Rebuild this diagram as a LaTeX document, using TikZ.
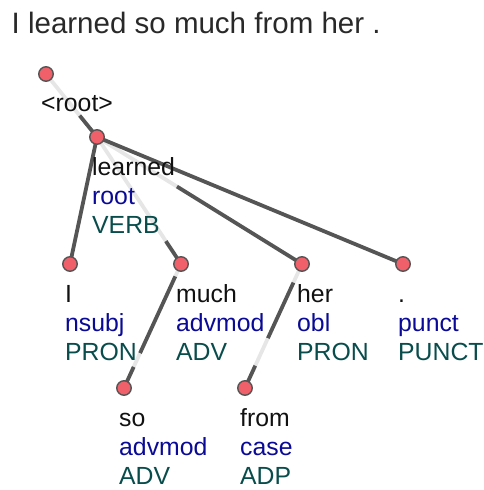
\documentclass[tikz,border=0pt]{standalone}
\usepackage{fontspec}
\setmainfont{Liberation Sans}
\usetikzlibrary{calc}

\definecolor{linkgray}{RGB}{85,85,85}
\definecolor{linkfade}{RGB}{230,230,230}
\definecolor{dotred}{RGB}{240,96,106}
\definecolor{relblue}{RGB}{10,10,150}
\definecolor{posteal}{RGB}{8,76,76}
\definecolor{wordblack}{RGB}{17,17,17}

\tikzset{
  link/.style={draw=linkgray, line width=3.8pt, line cap=butt},
  fadelink/.style={draw=linkfade, line width=3.8pt, line cap=butt},
  dot/.style={circle, fill=dotred, draw=linkgray, line width=1.4pt,
              minimum size=14.5pt, inner sep=0pt},
  lbl/.style={anchor=base west, inner sep=0pt, font=\fontsize{24.8}{24.8}\selectfont},
  wordlbl/.style={lbl, text=wordblack},
  rellbl/.style={lbl, text=relblue},
  poslbl/.style={lbl, text=posteal},
}

% token label: name, x, y of the dot, word, relation, part of speech
\newcommand{\tokenlabel}[6]{%
  \node[wordlbl] (#1-w) at (#2-5, #3+38) {#4};
  \node[rellbl]  (#1-r) at (#2-5, #3+67.5) {#5};
  \node[poslbl]  (#1-p) at (#2-5, #3+96.5) {#6};
}

\begin{document}
\begin{tikzpicture}[x=1pt, y=-1pt]
  \useasboundingbox (0,0) rectangle (484,490);

  % sentence
  \node[anchor=base west, inner sep=0pt, text=wordblack!90,
        font=\fontsize{29.5}{29.5}\selectfont] (title) at (11.5,33)
        {I learned so much from her .};

  % dot positions
  \coordinate (c-root)    at (46,74);
  \coordinate (c-learned) at (97,137);
  \coordinate (c-I)       at (70,264);
  \coordinate (c-much)    at (181,264);
  \coordinate (c-her)     at (302,264);
  \coordinate (c-punct)   at (403,264);
  \coordinate (c-so)      at (124,388);
  \coordinate (c-from)    at (245,388);

  % dependency links; stretches behind the labels are faded
  \draw[fadelink] (c-root) -- ($(c-root)!0.66!(c-learned)$);
  \draw[link] ($(c-root)!0.66!(c-learned)$) -- (c-learned);

  \draw[link] (c-learned) -- (c-I);

  \draw[fadelink] (c-learned) -- ($(c-learned)!0.82!(c-much)$);
  \draw[link] ($(c-learned)!0.82!(c-much)$) -- (c-much);

  \draw[fadelink] (c-learned) -- ($(c-learned)!0.39!(c-her)$);
  \draw[link] ($(c-learned)!0.39!(c-her)$) -- (c-her);

  \draw[link] (c-learned) -- (c-punct);

  \draw[fadelink] (c-much) -- ($(c-much)!0.10!(c-so)$);
  \draw[link] ($(c-much)!0.10!(c-so)$) -- ($(c-much)!0.72!(c-so)$);
  \draw[fadelink] ($(c-much)!0.72!(c-so)$) -- ($(c-much)!0.83!(c-so)$);
  \draw[link] ($(c-much)!0.83!(c-so)$) -- (c-so);

  \draw[fadelink] (c-her) -- ($(c-her)!0.15!(c-from)$);
  \draw[link] ($(c-her)!0.15!(c-from)$) -- ($(c-her)!0.60!(c-from)$);
  \draw[fadelink] ($(c-her)!0.60!(c-from)$) -- ($(c-her)!0.82!(c-from)$);
  \draw[link] ($(c-her)!0.82!(c-from)$) -- (c-from);

  % dots
  \foreach \t in {root,learned,I,much,her,punct,so,from}
    \node[dot] (d-\t) at (c-\t) {};

  % labels
  \node[wordlbl] (root-w) at (41,111) {<root>};
  \tokenlabel{learned}{97}{137}{learned}{root}{VERB}
  \tokenlabel{I}{70}{264}{I}{nsubj}{PRON}
  \tokenlabel{much}{181}{264}{much}{advmod}{ADV}
  \tokenlabel{her}{302}{264}{her}{obl}{PRON}
  \tokenlabel{punct}{403}{264}{.}{punct}{PUNCT}
  \tokenlabel{so}{124}{388}{so}{advmod}{ADV}
  \tokenlabel{from}{245}{388}{from}{case}{ADP}
\end{tikzpicture}
\end{document}
